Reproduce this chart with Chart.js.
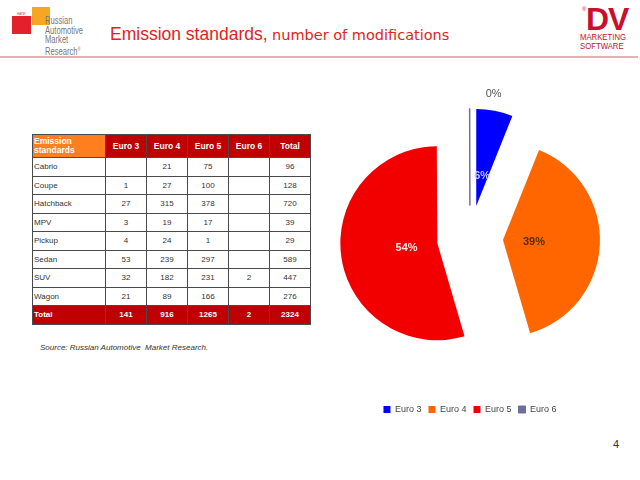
<!DOCTYPE html>
<html>
<head>
<meta charset="utf-8">
<script src="https://cdn.jsdelivr.net/npm/chart.js@4"></script>
<style>
  body { margin: 0; width: 640px; height: 480px; background: #fff; overflow: hidden; position: relative; font-family: "Liberation Sans", Arial, sans-serif; }
  .abs { position: absolute; }
  #linea { left: 0; top: 56px; width: 638px; height: 2px; background: #eab0b0; }
  #titulo { left: 110px; top: 24px; color: #e2231a; white-space: nowrap; }
  #titulo .t1 { font-family: "Liberation Sans"; font-size: 17.5px; }
  #titulo .t2 { font-family: "DejaVu Sans"; font-size: 14.5px; }
  #ramr1 { left: 12px; top: 16px; width: 19px; height: 18px; background: #e4202c; }
  #ramr2 { left: 32px; top: 7px; width: 18px; height: 18px; background: #f5a623; }
  #ramrTxt { left: 45px; top: 16px; font-size: 10px; line-height: 9.5px; color: #777; transform: scaleX(0.76); transform-origin: left top; }
  #napi { left: 17px; top: 12px; font-size: 3px; color: #c33; }
  #dv { left: 586px; top: 1px; font-weight: bold; font-size: 32px; color: #c8102e; letter-spacing: -1px; }
  #dvR { left: 582px; top: 6px; font-size: 6px; color: #c8102e; }
  #dvTxt { left: 580px; top: 33px; font-size: 9px; line-height: 8.5px; color: #c8102e; transform: scaleX(0.86); transform-origin: left top; }
  #tabla { left: 32px; top: 134px; border-collapse: collapse; font-size: 8px; color: #333; }
  #tabla td, #tabla th { border: 1px solid #4a4a4a; padding: 0 1px; text-align: center; height: 17.5px; }
  #tabla th { background: #c00000; color: #fff; font-weight: bold; font-size: 8.5px; height: 22px; }
  #tabla th.prim { background: #ff7f1e; text-align: left; line-height: 9px; }
  #tabla td.prim { text-align: left; }
  #tabla tr.tot td { background: #c00000; color: #fff; font-weight: bold; }
  #fuente { left: 40px; top: 343px; font-style: italic; font-size: 8px; color: #333; white-space: pre; }
  #pagina { left: 613px; top: 438px; font-size: 11px; color: #334; }
  #caja { left: 330px; top: 40px; width: 280px; height: 400px; }
</style>
</head>
<body>
<div class="abs" id="ramr1"></div>
<div class="abs" id="ramr2"></div>
<div class="abs" id="napi">НАПИ</div>
<div class="abs" id="ramrTxt">Russian<br>Automotive<br>Market<br>Research<sup style="font-size:5px">®</sup></div>
<div class="abs" id="titulo"><span class="t1">Emission standards,</span> <span class="t2">number of modifications</span></div>
<div class="abs" id="dvR">®</div>
<div class="abs" id="dv">DV</div>
<div class="abs" id="dvTxt">MARKETING<br>SOFTWARE</div>
<div class="abs" id="linea"></div>

<table class="abs" id="tabla"></table>
<div class="abs" id="fuente">Source: Russian Automotive  Market Research.</div>

<div class="abs" id="caja"><canvas id="pastel"></canvas></div>
<div class="abs" id="pagina">4</div>

<script>
// datos de la tabla
const carrocerias = ["Cabrio", "Coupe", "Hatchback", "MPV", "Pickup", "Sedan", "SUV", "Wagon"];
const estandares = ["Euro 3", "Euro 4", "Euro 5", "Euro 6"];
const euro3 = [null, 1, 27, 3, 4, 53, 32, 21];
const euro4 = [21, 27, 315, 19, 24, 239, 182, 89];
const euro5 = [75, 100, 378, 17, 1, 297, 231, 166];
const euro6 = [null, null, null, null, null, null, 2, null];
const totalFila = [96, 128, 720, 39, 29, 589, 447, 276];
const totalEstandar = [141, 916, 1265, 2];
const totalGeneral = 2324;

const coloresPastel = ["#0000ff", "#ff6600", "#f20000", "#6e6e9e"];
const coloresEtiqueta = ["#c8c8ff", "#5a2a00", "#ffe6e6", "#555555"];
const separacion = 33; // cuanto se separa cada porcion del centro

function armarTabla() {
    let tabla = document.getElementById("tabla");
    let html = '<tr><th class="prim" style="width:70px">Emission<br>standards</th>';
    estandares.forEach(e => { html += '<th style="width:38px">' + e + '</th>'; });
    html += '<th style="width:38px">Total</th></tr>';
    for (let i = 0; i < carrocerias.length; i++) {
        let fila = [euro3[i], euro4[i], euro5[i], euro6[i], totalFila[i]];
        html += '<tr><td class="prim">' + carrocerias[i] + '</td>';
        fila.forEach(v => { html += '<td>' + (v === null ? '' : v) + '</td>'; });
        html += '</tr>';
    }
    html += '<tr class="tot"><td class="prim">Total</td>';
    totalEstandar.forEach(v => { html += '<td>' + v + '</td>'; });
    html += '<td>' + totalGeneral + '</td></tr>';
    tabla.innerHTML = html;
}
armarTabla();

// dibuja cada arco corrido hacia afuera (el offset propio de Chart.js agranda el radio)
const porcionesSeparadas = {
    id: "porcionesSeparadas",
    beforeDatasetDraw(chart, args) {
        let ctx = chart.ctx;
        args.meta.data.forEach(arco => {
            let p = arco.getProps(["startAngle", "endAngle"]);
            let medio = (p.startAngle + p.endAngle) / 2;
            ctx.save();
            ctx.translate(Math.cos(medio) * separacion, Math.sin(medio) * separacion);
            arco.draw(ctx, chart.chartArea);
            ctx.restore();
        });
        return false;
    },
    afterDatasetsDraw(chart) {
        let ctx = chart.ctx;
        let meta = chart.getDatasetMeta(0);
        let datos = chart.data.datasets[0].data;
        let suma = datos.reduce((a, b) => a + b, 0);
        meta.data.forEach((arco, i) => {
            let p = arco.getProps(["x", "y", "startAngle", "endAngle", "outerRadius"]);
            let medio = (p.startAngle + p.endAngle) / 2;
            let cx = p.x + Math.cos(medio) * separacion;
            let cy = p.y + Math.sin(medio) * separacion;
            let pct = Math.round(datos[i] / suma * 100) + "%";
            ctx.save();
            ctx.textAlign = "center";
            ctx.textBaseline = "middle";
            ctx.fillStyle = coloresEtiqueta[i];
            if (datos[i] / suma < 0.01) {
                ctx.font = "11px 'Liberation Sans'";
                let r = p.outerRadius + 15;
                ctx.fillText(pct, cx + Math.cos(medio) * r + 24, cy + Math.sin(medio) * r);
            } else {
                ctx.font = "bold 11px 'Liberation Sans'";
                let r = p.outerRadius * 0.32;
                ctx.fillText(pct, cx + Math.cos(medio) * r, cy + Math.sin(medio) * r);
            }
            ctx.restore();
        });
    }
};

new Chart(document.getElementById("pastel"), {
    type: "pie",
    data: {
        labels: estandares,
        datasets: [{
            data: totalEstandar,
            backgroundColor: coloresPastel,
            borderColor: coloresPastel,
            borderWidth: [0, 0, 0, 1],
            offset: 0,
            radius: 97
        }]
    },
    options: {
        responsive: true,
        maintainAspectRatio: false,
        animation: false,
        layout: { padding: { top: 39, bottom: 16, left: 0, right: 0 } },
        plugins: {
            tooltip: { enabled: false },
            legend: {
                position: "bottom",
                labels: {
                    boxWidth: 7,
                    boxHeight: 7,
                    padding: 7,
                    color: "#444",
                    font: { size: 9, family: "'Liberation Sans'" }
                }
            }
        }
    },
    plugins: [porcionesSeparadas]
});
</script>
</body>
</html>
